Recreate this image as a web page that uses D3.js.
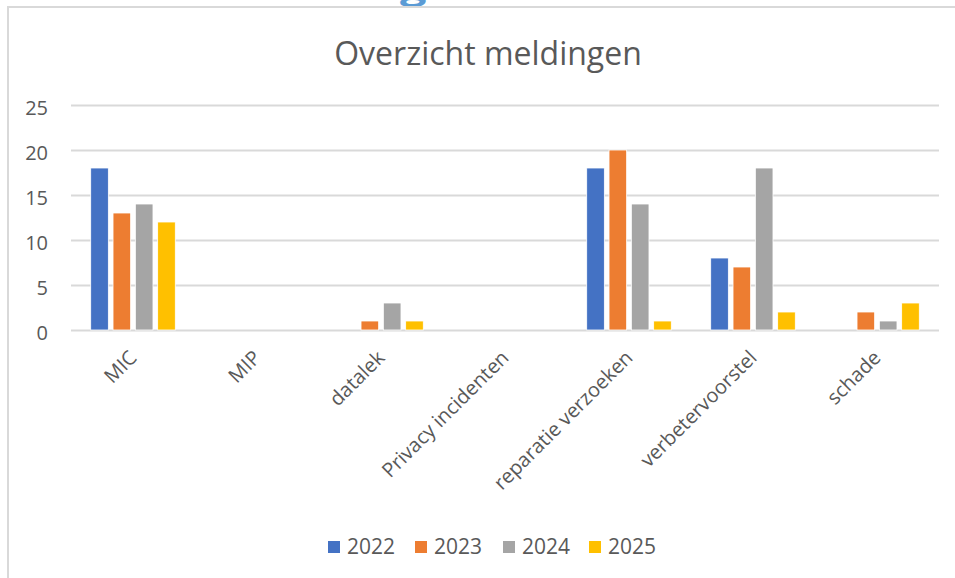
<!DOCTYPE html>
<html>
<head>
<meta charset="utf-8">
<script src="https://cdn.jsdelivr.net/npm/d3@7"></script>
<style>
  html, body { margin: 0; padding: 0; background: #fff; }
  svg { display: block; }
  text { font-family: "Open Sans", "Noto Sans", sans-serif; }
</style>
</head>
<body>
<svg id="chart" width="955" height="578"></svg>
<script>
const categories = ["MIC", "MIP", "datalek", "Privacy incidenten", "reparatie verzoeken", "verbetervoorstel", "schade"];
const seriesNames = ["2022", "2023", "2024", "2025"];
const values2022 = [18, 0, 0, 0, 18, 8, 0];
const values2023 = [13, 0, 1, 0, 20, 7, 2];
const values2024 = [14, 0, 3, 0, 14, 18, 1];
const values2025 = [12, 0, 1, 0, 1, 2, 3];
const yTicks = [0, 5, 10, 15, 20, 25];
const colors = ["#4472C4", "#ED7D31", "#A5A5A5", "#FFC000"];

const seriesValues = [values2022, values2023, values2024, values2025];
const data = categories.map((c, i) => ({
  category: c,
  values: seriesNames.map((s, j) => ({ series: s, value: seriesValues[j][i], color: colors[j] }))
}));

const svg = d3.select("#chart");
const textColor = "#595959";
const gridColor = "#D9D9D9";

// cropped heading above the chart frame (only its lowest pixels are visible)
svg.append("text")
  .attr("x", 0).attr("y", 0)
  .attr("textLength", 485).attr("lengthAdjust", "spacingAndGlyphs")
  .attr("font-size", 30).attr("font-weight", "bold")
  .attr("fill", "#5B9BD5")
  .text("Overzicht meldingen");

// chart frame (extends beyond the visible area)
svg.append("rect")
  .attr("x", 8).attr("y", 7)
  .attr("width", 1000).attr("height", 640)
  .attr("fill", "none").attr("stroke", gridColor).attr("stroke-width", 2);

const plot = { left: 71, right: 939, top: 105, bottom: 330 };

const x0 = d3.scaleBand().domain(categories).range([plot.left, plot.right]).padding(0);
const groupWidth = x0.bandwidth() * 0.72;
const x1 = d3.scaleBand().domain(seriesNames)
  .range([(x0.bandwidth() - groupWidth) / 2, (x0.bandwidth() + groupWidth) / 2])
  .paddingInner(0.21).paddingOuter(0.105);
const y = d3.scaleLinear().domain([0, 25]).range([plot.bottom, plot.top]);

// title
svg.append("text")
  .attr("x", 488).attr("y", 65)
  .attr("text-anchor", "middle")
  .attr("font-size", 32)
  .attr("fill", textColor)
  .text("Overzicht meldingen");

// gridlines + y labels via axis
const yAxis = d3.axisLeft(y).tickValues(yTicks).tickSize(-(plot.right - plot.left)).tickPadding(23);
const gy = svg.append("g").attr("transform", `translate(${plot.left},0)`).call(yAxis);
gy.select(".domain").remove();
gy.selectAll(".tick line").attr("stroke", gridColor).attr("stroke-width", 2);
gy.selectAll(".tick text")
  .attr("font-size", 20).attr("fill", textColor)
  .attr("font-family", "'Open Sans', sans-serif")
  .attr("dy", "0.45em");

// bars
const groups = svg.append("g").selectAll("g").data(data).join("g")
  .attr("transform", d => `translate(${x0(d.category)},0)`);
groups.selectAll("rect").data(d => d.values).join("rect")
  .attr("x", d => x1(d.series))
  .attr("y", d => y(d.value))
  .attr("width", x1.bandwidth())
  .attr("height", d => y(0) - y(d.value))
  .attr("fill", d => d.color)
  .attr("stroke", "#fff").attr("stroke-width", 0.8);

// x axis labels (rotated)
const xAxis = d3.axisBottom(x0).tickSize(0).tickPadding(0);
const gx = svg.append("g").attr("transform", `translate(0,${plot.bottom})`).call(xAxis);
gx.select(".domain").remove();
gx.selectAll(".tick text")
  .attr("font-size", 20).attr("fill", textColor)
  .attr("font-family", "'Open Sans', sans-serif")
  .attr("text-anchor", "end")
  .attr("dy", null)
  .attr("y", 0)
  .attr("transform", "translate(5,29) rotate(-45)");

// legend
const legendX = [328, 415, 503, 589];
const lg = svg.append("g").selectAll("g").data(seriesNames).join("g")
  .attr("transform", (d, i) => `translate(${legendX[i]},541)`);
lg.append("rect").attr("width", 12).attr("height", 12).attr("fill", (d, i) => colors[i]);
lg.append("text").attr("x", 19).attr("y", 12.5)
  .attr("font-size", 21).attr("fill", textColor)
  .text(d => d);
</script>
</body>
</html>
